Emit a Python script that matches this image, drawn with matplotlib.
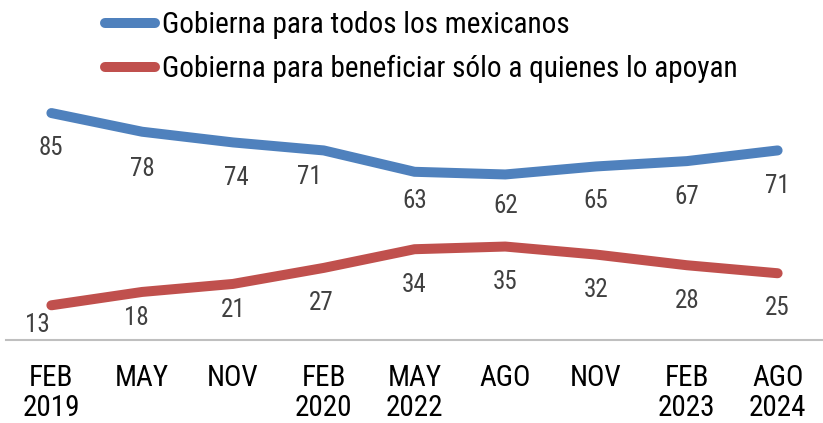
import matplotlib
matplotlib.use("Agg")
import matplotlib.pyplot as plt
import numpy as np

plt.rcParams['font.family'] = ['Roboto Condensed', 'Liberation Sans Narrow', 'Roboto', 'DejaVu Sans']

categories = ["FEB\n2019", "MAY", "NOV", "FEB\n2020", "MAY\n2022", "AGO", "NOV", "FEB\n2023", "AGO\n2024"]
todos = [85, 78, 74, 71, 63, 62, 65, 67, 71]
apoyan = [13, 18, 21, 27, 34, 35, 32, 28, 25]
label_todos = "Gobierna para todos los mexicanos"
label_apoyan = "Gobierna para beneficiar sólo a quienes lo apoyan"

# label offsets below each point (pixels)
off_todos = [(0, 35), (0, 37), (3, 36), (-14, 27), (0, 29), (0, 32), (0, 35), (0, 36), (0, 36)]
off_apoyan = [(-14, 20), (-6, 26), (0, 26), (-2, 35), (0, 36), (0, 35), (0, 35), (0, 36), (0, 35)]

blue = "#4F81BD"
red = "#C0504D"

fig = plt.figure(figsize=(8.23, 4.23), dpi=100)
ax = fig.add_axes([6 / 823, 1 - 340 / 423, 817 / 823, 267 / 423])

x = np.arange(len(categories))
l1, = ax.plot(x, todos, color=blue, lw=7.2, solid_capstyle="round", solid_joinstyle="round", label=label_todos)
l2, = ax.plot(x, apoyan, color=red, lw=7.2, solid_capstyle="round", solid_joinstyle="round", label=label_apoyan)

for xs, vals, offs in [(x, todos, off_todos), (x, apoyan, off_apoyan)]:
    for xi, v, (dx, dy) in zip(xs, vals, offs):
        ax.annotate(str(v), (xi, v), xytext=(dx * 0.72, -dy * 0.72), textcoords="offset points",
                    ha="center", va="center", fontsize=18, color="#404040")

ax.set_xlim(-0.5, len(categories) - 0.5)
ax.set_ylim(0, 100)
ax.set_xticks(x)
ax.set_xticklabels(categories, fontsize=21, color="black", linespacing=1.1, va="top")
ax.tick_params(axis="x", length=0, pad=17)
ax.set_yticks([])
for s in ["top", "left", "right"]:
    ax.spines[s].set_visible(False)
ax.spines["bottom"].set_color("#BFBFBF")
ax.spines["bottom"].set_linewidth(1.5)

fig.legend(handles=[l1, l2], loc="upper left", bbox_to_anchor=(105 / 823, 1 - 11 / 423),
           frameon=False, fontsize=21.1, handlelength=1.7, handletextpad=0.23,
           labelspacing=0.55, borderaxespad=0, borderpad=0)

fig.savefig("out.png", dpi=100)
